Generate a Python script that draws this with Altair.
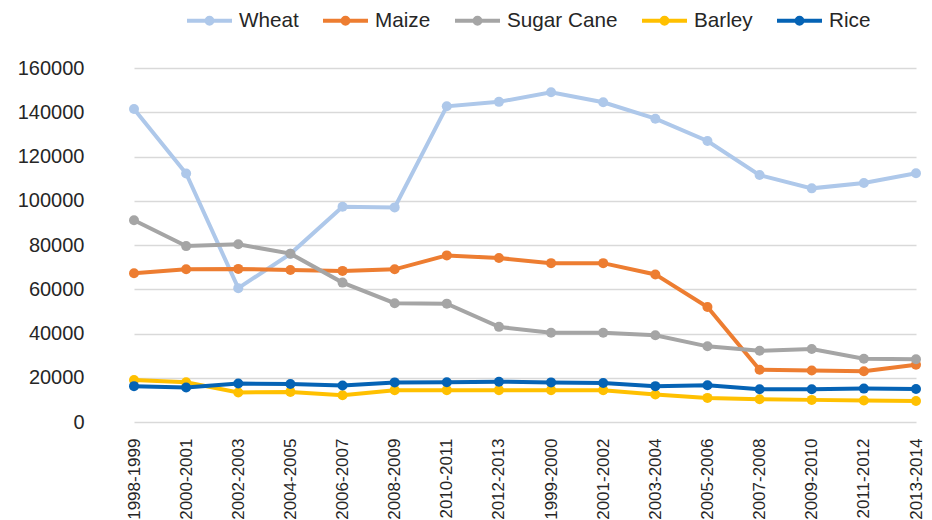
import altair as alt
import pandas as pd

periods = ["1998-1999", "2000-2001", "2002-2003", "2004-2005", "2006-2007",
           "2008-2009", "2010-2011", "2012-2013", "1999-2000", "2001-2002",
           "2003-2004", "2005-2006", "2007-2008", "2009-2010", "2011-2012",
           "2013-2014"]

crops = ["Wheat", "Maize", "Sugar Cane", "Barley", "Rice"]
colors = ["#AEC8EA", "#ED7D31", "#A5A5A5", "#FFC000", "#0563B5"]

wheat = [141500, 112300, 60500, 76000, 97300, 97000, 142700, 144700,
         149000, 144500, 137100, 127000, 111600, 105600, 108000, 112400]
maize = [67200, 69000, 69200, 68700, 68300, 69000, 75300, 74100,
         71800, 71800, 66700, 52000, 23600, 23300, 22900, 25900]
sugar_cane = [91200, 79500, 80300, 76100, 63000, 53700, 53500, 43000,
              40300, 40300, 39200, 34200, 32200, 33000, 28600, 28400]
barley = [19000, 18000, 13300, 13600, 12100, 14400, 14400, 14400,
          14400, 14400, 12400, 10900, 10300, 10000, 9700, 9500]
rice = [16200, 15600, 17400, 17200, 16500, 17900, 18000, 18200,
        17900, 17600, 16200, 16600, 14800, 14800, 15100, 14900]

y_ticks = [0, 20000, 40000, 60000, 80000, 100000, 120000, 140000, 160000]

series = {"Wheat": wheat, "Maize": maize, "Sugar Cane": sugar_cane,
          "Barley": barley, "Rice": rice}
rows = []
for crop in crops:
    for p, v in zip(periods, series[crop]):
        rows.append({"period": p, "crop": crop, "value": v})
df = pd.DataFrame(rows)

FONT = "Liberation Sans"

legend_symbol = ("M-1,0L1,0M-0.13,0A0.13,0.13,0,1,1,0.13,0"
                 "A0.13,0.13,0,1,1,-0.13,0Z")

x_enc = alt.X("period:N", sort=periods,
              scale=alt.Scale(type="point", range=[26, 808], padding=0),
              axis=alt.Axis(title=None, labelAngle=270, labelFont=FONT,
                            labelFontSize=17, labelColor="#262626",
                            ticks=False, domain=False, labelPadding=16,
                            grid=False))
y_enc = alt.Y("value:Q",
              scale=alt.Scale(domain=[0, 160000], nice=False),
              axis=alt.Axis(title=None, values=y_ticks, format="d",
                            labelFont=FONT, labelFontSize=20,
                            labelColor="#262626", ticks=False, domain=False,
                            labelPadding=24, gridColor="#D9D9D9",
                            gridWidth=1.3))
legend = alt.Legend(title=None, orient="none", legendX=77, legendY=-72,
                    direction="horizontal", symbolType=legend_symbol,
                    symbolSize=2025, symbolStrokeWidth=4,
                    labelFont=FONT, labelFontSize=20.7, labelColor="#262626",
                    columnPadding=16, labelOffset=5, padding=0)
c_enc = alt.Color("crop:N", scale=alt.Scale(domain=crops, range=colors),
                  legend=legend)

base = alt.Chart(df)
layers = []
for crop in crops:
    sub = base.transform_filter(alt.datum.crop == crop)
    layers.append(sub.mark_line(strokeWidth=4).encode(x=x_enc, y=y_enc,
                                                      color=c_enc))
    layers.append(sub.mark_circle(size=100, opacity=1).encode(
        x=x_enc, y=y_enc, color=c_enc))

chart = alt.layer(*layers).properties(
    width=816, height=354,
    autosize=alt.AutoSizeParams(type="none"),
    padding={"left": 100, "top": 60, "right": 0, "bottom": 100},
).configure(background="white", view=alt.ViewConfig(stroke=None))

chart.save("out.html", embed_options={"renderer": "svg", "actions": False})
